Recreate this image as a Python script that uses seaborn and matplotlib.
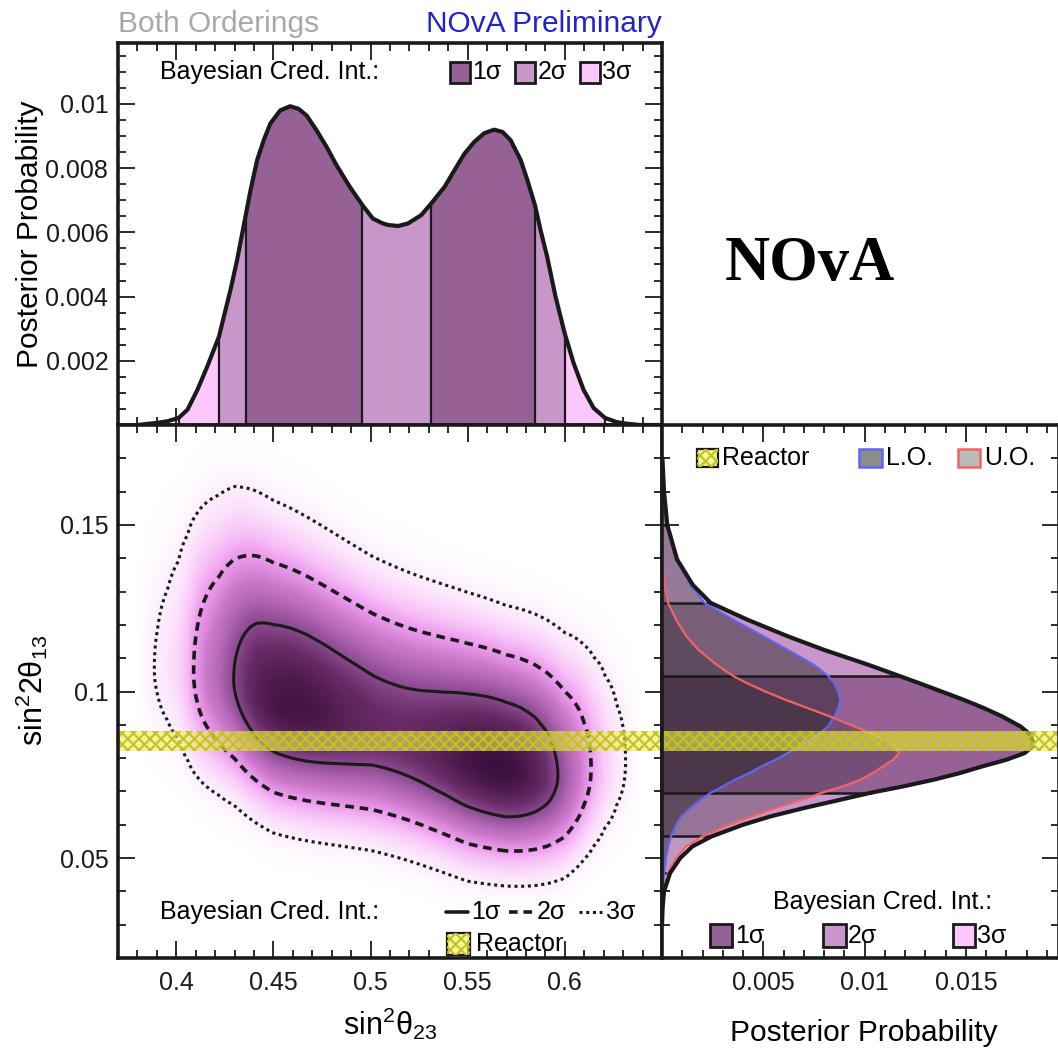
import numpy as np
import matplotlib
matplotlib.use("Agg")
import matplotlib.pyplot as plt
import seaborn as sns
from matplotlib.patches import Rectangle
from matplotlib.colors import LinearSegmentedColormap
from matplotlib.ticker import MultipleLocator, FixedLocator, FuncFormatter

# ---------------- data ----------------
# marginal posterior of sin^2(theta23)
th23 = [0.380, 0.3904, 0.3956, 0.4012, 0.4058, 0.4109, 0.4160, 0.4211, 0.422, 0.4245,
        0.4279, 0.4313, 0.4356, 0.4361, 0.4382, 0.4416, 0.4450, 0.4484, 0.4535, 0.4586,
        0.4629, 0.4671, 0.4722, 0.4774, 0.4825, 0.4893, 0.4958, 0.5012, 0.5063, 0.5091,
        0.5142, 0.5193, 0.5261, 0.5312, 0.5381, 0.5432, 0.5483, 0.5534, 0.5585, 0.5636,
        0.5679, 0.5721, 0.5773, 0.5807, 0.5846, 0.5875, 0.5909, 0.5952, 0.5999, 0.6045,
        0.6096, 0.6148, 0.6207, 0.6267, 0.6318, 0.6386, 0.650]
post23 = [0.0, 0.00007, 0.00012, 0.00022, 0.00048, 0.0011, 0.00183, 0.00262, 0.00276, 0.00338,
          0.00421, 0.00514, 0.00649, 0.00665, 0.00731, 0.00825, 0.00887, 0.00939, 0.0098, 0.00993,
          0.00985, 0.00964, 0.00918, 0.00866, 0.00809, 0.00742, 0.00685, 0.00643, 0.00628, 0.00623,
          0.0062, 0.00628, 0.00654, 0.0069, 0.00742, 0.00794, 0.00845, 0.00882, 0.00909, 0.0092,
          0.00913, 0.00887, 0.00825, 0.00763, 0.00685, 0.00607, 0.00524, 0.0040, 0.00286, 0.00193,
          0.0011, 0.00053, 0.00022, 0.00009, 0.00004, 0.0, 0.0]
ci1_23 = [(0.4361, 0.4958), (0.5312, 0.5846)]
ci2_23 = [(0.422, 0.5999)]
ci3_23 = [(0.4012, 0.6207)]

# conditional shape of sin^2(2theta13) along sin^2(theta23) (mode, upper / lower width)
ctrl_x    = [0.37, 0.40, 0.43, 0.45, 0.50, 0.55, 0.57, 0.60, 0.62, 0.65]
ctrl_mode = [0.107, 0.1068, 0.1035, 0.0970, 0.0894, 0.0798, 0.0767, 0.0745, 0.078, 0.080]
ctrl_sup  = [0.020, 0.020, 0.0195, 0.0188, 0.0165, 0.0155, 0.0151, 0.0150, 0.0150, 0.0150]
ctrl_sdn  = [0.013, 0.013, 0.0127, 0.0123, 0.0119, 0.0114, 0.0108, 0.0106, 0.0106, 0.0106]

# marginal posterior of sin^2(2theta13), lower / upper octant
y13 = [0.030, 0.035, 0.040, 0.0455, 0.050, 0.0535, 0.0565, 0.060, 0.0625, 0.065,
       0.0675, 0.0696, 0.0715, 0.0735, 0.0755, 0.0775, 0.0795, 0.0815, 0.0835, 0.085,
       0.087, 0.0895, 0.0925, 0.095, 0.0975, 0.100, 0.1025, 0.1047, 0.108, 0.1125,
       0.1166, 0.1216, 0.1266, 0.132, 0.1397, 0.150, 0.160, 0.170]
lo13 = [0.0, 0.00001, 0.00004, 0.0001, 0.0002, 0.0003, 0.00045, 0.0007, 0.00095, 0.0014,
        0.0019, 0.0024, 0.0030, 0.0036, 0.0043, 0.0049, 0.0056, 0.0062, 0.0068, 0.0072,
        0.0077, 0.0082, 0.0085, 0.0087, 0.0088, 0.0087, 0.0085, 0.0082, 0.0075, 0.0062,
        0.0050, 0.0035, 0.0021, 0.0014, 0.0007, 0.00025, 0.0001, 0.00002]
uo13 = [0.0, 0.00002, 0.00006, 0.0003, 0.0007, 0.0012, 0.0020, 0.0033, 0.0044, 0.0056,
        0.0069, 0.0079, 0.0089, 0.0098, 0.0104, 0.0109, 0.0114, 0.0117, 0.0115, 0.0111,
        0.0105, 0.0095, 0.0083, 0.0072, 0.0061, 0.0051, 0.0042, 0.0035, 0.0027, 0.0018,
        0.0012, 0.0007, 0.0003, 0.00012, 0.00004, 0.00001, 0.0, 0.0]
ci1_13 = (0.0696, 0.1047)
ci2_13 = (0.0565, 0.1266)
ci3_13 = (0.0455, 0.150)

reactor = (0.082, 0.088)
cl_levels = [0.6827, 0.9545, 0.9973]
sig_labels = ["1σ", "2σ", "3σ"]
x23_ticks = [0.4, 0.45, 0.5, 0.55, 0.6]

# ---------------- style ----------------
sns.set_theme(style="ticks")
plt.rcParams['font.family'] = ['Liberation Sans', 'DejaVu Sans']
plt.rcParams['mathtext.fontset'] = 'custom'
plt.rcParams['mathtext.rm'] = 'Liberation Sans'
plt.rcParams['mathtext.it'] = 'Liberation Sans:italic'
plt.rcParams['hatch.linewidth'] = 1.5
plt.rcParams['text.color'] = 'black'

C1, C2, C3 = '#966296', '#c896c8', '#fcc8fc'
HATCH_FC = (0.93, 0.93, 0.35, 0.6)
HATCH_EC = '#c2c222'
LO_EC, UO_EC = '#6464ee', '#f06464'
LO_A, UO_A = 0.45, 0.27
FS = 18

W, H = 1058, 1056
fig = plt.figure(figsize=(W / 100, H / 100), dpi=100)


def frac(x0, y0, x1, y1):
    return [x0 / W, 1 - y1 / H, (x1 - x0) / W, (y1 - y0) / H]


ax_top = fig.add_axes(frac(118, 43, 662, 425))
ax_main = fig.add_axes(frac(118, 425, 662, 958))
ax_r = fig.add_axes(frac(662, 425, 1059, 958))

fmt = FuncFormatter(lambda v, p: f"{v:g}")


def style(ax):
    ax.tick_params(which='both', direction='in', top=True, right=True, bottom=True, left=True,
                   width=1.3, color='k', labelsize=FS, labelcolor='k')
    ax.tick_params(which='major', length=12, pad=7)
    ax.tick_params(which='minor', length=6)
    for sp in ax.spines.values():
        sp.set_linewidth(2.6)
        sp.set_color('k')
        sp.set_zorder(6)


for a in (ax_top, ax_main, ax_r):
    style(a)

th = np.array(th23)
pp = np.array(post23)

# ---------------- top marginal ----------------
def seg(a, b):
    m = (th >= a - 1e-9) & (th <= b + 1e-9)
    return th[m], pp[m]

for ci, col in ((ci3_23, C3), (ci2_23, C2), (ci1_23, C1)):
    for a, b in ci:
        xs, ys = seg(a, b)
        ax_top.fill_between(xs, 0, ys, color=col, lw=0, zorder=1)
for ci in (ci1_23, ci2_23, ci3_23):
    for a, b in ci:
        for bnd in (a, b):
            ax_top.plot([bnd, bnd], [0, np.interp(bnd, th, pp)], color='k', lw=1.6, zorder=2)
sns.lineplot(x=th23, y=post23, ax=ax_top, color='k', lw=3.0, sort=False, estimator=None, zorder=3)
ax_top.set_xlim(0.37, 0.65)
ax_top.set_ylim(0, 0.0119)
ax_top.xaxis.set_major_locator(FixedLocator(x23_ticks))
ax_top.xaxis.set_minor_locator(MultipleLocator(0.01))
ax_top.yaxis.set_major_locator(FixedLocator([0.002, 0.004, 0.006, 0.008, 0.01]))
ax_top.yaxis.set_minor_locator(MultipleLocator(0.0005))
ax_top.yaxis.set_major_formatter(fmt)
ax_top.tick_params(labelbottom=False)
ax_top.set_xlabel('')
ax_top.set_ylabel('')

# legend top
tr = ax_top.transAxes
ax_top.text(0.077, 0.924, "Bayesian Cred. Int.:", transform=tr, ha='left', va='center', fontsize=FS)
for x0, col, lab in ((0.610, C1, sig_labels[0]), (0.730, C2, sig_labels[1]), (0.849, C3, sig_labels[2])):
    ax_top.add_patch(Rectangle((x0, 0.896), 0.037, 0.055, transform=tr, fc=col, ec='k', lw=2,
                               clip_on=False, zorder=7))
    ax_top.text(x0 + 0.041, 0.924, lab, transform=tr, ha='left', va='center', fontsize=FS)

# ---------------- 2D posterior ----------------
gx = np.linspace(0.37, 0.65, 420)
gy = np.linspace(0.02, 0.18, 420)
X, Y = np.meshgrid(gx, gy)
fx = np.interp(gx, th23, post23)
mo = np.interp(gx, ctrl_x, ctrl_mode)[None, :]
su = np.interp(gx, ctrl_x, ctrl_sup)[None, :]
sd = np.interp(gx, ctrl_x, ctrl_sdn)[None, :]
S = np.where(Y >= mo, su, sd)
P = fx[None, :] * (2.0 / np.sqrt(2 * np.pi) / (su + sd)) * np.exp(-0.5 * ((Y - mo) / S) ** 2)

flat = np.sort(P.ravel())[::-1]
cum = np.cumsum(flat) / flat.sum()
levels = [flat[np.searchsorted(cum, q)] for q in cl_levels]  # 1,2,3 sigma

cmap = LinearSegmentedColormap.from_list('nova', [
    (0.0, '#ffffff'), (0.004, '#fdf0fd'), (0.02, '#fad2fa'), (0.06, '#f0a2f0'),
    (0.15, '#cc78cc'), (0.35, '#96529a'), (0.6, '#682c68'), (1.0, '#3c0f3c')], N=4096)
ax_main.imshow(P / P.max(), extent=[0.37, 0.65, 0.02, 0.18], origin='lower', aspect='auto',
               cmap=cmap, vmin=0, vmax=1, interpolation='bilinear', zorder=0)
ax_main.contour(gx, gy, P, levels=[levels[2], levels[1], levels[0]], colors='k',
                linestyles=[(0, (1, 1.2)), (0, (2.4, 1.6)), 'solid'],
                linewidths=[2.2, 2.6, 2.2], zorder=2)
ax_main.axhspan(reactor[0], reactor[1], fc=HATCH_FC, ec='none', lw=0, zorder=3)
ax_main.axhspan(reactor[0], reactor[1], fc='none', ec=HATCH_EC, hatch='xxx', lw=0, zorder=3)
ax_main.set_xlim(0.37, 0.65)
ax_main.set_ylim(0.02, 0.18)
ax_main.xaxis.set_major_locator(FixedLocator(x23_ticks))
ax_main.xaxis.set_minor_locator(MultipleLocator(0.01))
ax_main.yaxis.set_major_locator(MultipleLocator(0.05))
ax_main.yaxis.set_minor_locator(MultipleLocator(0.01))
ax_main.xaxis.set_major_formatter(fmt)
ax_main.yaxis.set_major_formatter(fmt)
ax_main.tick_params(axis='x', pad=9)

tm = ax_main.transAxes
ax_main.text(0.077, 0.086, "Bayesian Cred. Int.:", transform=tm, ha='left', va='center', fontsize=FS)
ax_main.plot([0.603, 0.643], [0.086, 0.086], transform=tm, color='k', lw=2.6, clip_on=False)
ax_main.text(0.649, 0.086, sig_labels[0], transform=tm, ha='left', va='center', fontsize=FS)
ax_main.plot([0.719, 0.763], [0.086, 0.086], transform=tm, color='k', lw=2.6,
             ls=(0, (2.4, 1.6)), clip_on=False)
ax_main.text(0.770, 0.086, sig_labels[1], transform=tm, ha='left', va='center', fontsize=FS)
ax_main.plot([0.847, 0.890], [0.086, 0.086], transform=tm, color='k', lw=2.2,
             ls=(0, (1, 1.2)), clip_on=False)
ax_main.text(0.897, 0.086, sig_labels[2], transform=tm, ha='left', va='center', fontsize=FS)
ax_main.add_patch(Rectangle((0.605, 0.006), 0.042, 0.041, transform=tm, fc=HATCH_FC, ec='k', lw=1.6,
                            clip_on=False, zorder=7))
ax_main.add_patch(Rectangle((0.605, 0.006), 0.042, 0.041, transform=tm, fc='none', ec=HATCH_EC,
                            hatch='xxx', lw=0, clip_on=False, zorder=7))
ax_main.text(0.658, 0.026, "Reactor", transform=tm, ha='left', va='center', fontsize=FS, zorder=8)

# ---------------- right marginal ----------------
yy = np.array(y13)
lo = np.array(lo13)
uo = np.array(uo13)
tot = lo + uo

def segy(a, b):
    m = (yy >= a - 1e-9) & (yy <= b + 1e-9)
    return yy[m], tot[m]

for (a, b), col in ((ci3_13, C3), (ci2_13, C2), (ci1_13, C1)):
    ys, vs = segy(a, b)
    ax_r.fill_betweenx(ys, 0, vs, color=col, lw=0, zorder=1)
ax_r.fill_betweenx(yy, 0, uo, color='k', alpha=UO_A, lw=0, zorder=1.2)
ax_r.fill_betweenx(yy, 0, lo, color='k', alpha=LO_A, lw=0, zorder=1.3)
for ci in (ci1_13, ci2_13, ci3_13):
    for bnd in ci:
        ax_r.plot([0, np.interp(bnd, yy, tot)], [bnd, bnd], color='k', lw=1.8, zorder=2)
sns.lineplot(x=lo13, y=y13, ax=ax_r, color=LO_EC, lw=1.6, sort=False, estimator=None,
             orient='y', zorder=2.3)
sns.lineplot(x=uo13, y=y13, ax=ax_r, color=UO_EC, lw=1.6, sort=False, estimator=None,
             orient='y', zorder=2.3)
sns.lineplot(x=tot, y=yy, ax=ax_r, color='k', lw=3.0, sort=False, estimator=None,
             orient='y', zorder=2.5)
ax_r.axhspan(reactor[0], reactor[1], fc=HATCH_FC, ec='none', lw=0, zorder=3)
ax_r.axhspan(reactor[0], reactor[1], fc='none', ec=HATCH_EC, hatch='xxx', lw=0, zorder=3)
ax_r.set_xlim(0, 0.0196)
ax_r.set_ylim(0.02, 0.18)
ax_r.xaxis.set_major_locator(FixedLocator([0.005, 0.01, 0.015]))
ax_r.xaxis.set_minor_locator(MultipleLocator(0.001))
ax_r.yaxis.set_major_locator(MultipleLocator(0.05))
ax_r.yaxis.set_minor_locator(MultipleLocator(0.01))
ax_r.xaxis.set_major_formatter(fmt)
ax_r.tick_params(labelleft=False)
ax_r.tick_params(axis='x', pad=9)
ax_r.set_xlabel('')
ax_r.set_ylabel('')

trr = ax_r.transAxes
ax_r.add_patch(Rectangle((0.088, 0.921), 0.053, 0.034, transform=trr, fc=HATCH_FC, ec='k', lw=1.6,
                         clip_on=False, zorder=7))
ax_r.add_patch(Rectangle((0.088, 0.921), 0.053, 0.034, transform=trr, fc='none', ec=HATCH_EC,
                         hatch='xxx', lw=0, clip_on=False, zorder=7))
ax_r.text(0.152, 0.938, "Reactor", transform=trr, ha='left', va='center', fontsize=FS)
ax_r.add_patch(Rectangle((0.497, 0.921), 0.056, 0.034, transform=trr, fc=(0, 0, 0, LO_A), ec=LO_EC,
                         lw=1.8, clip_on=False, zorder=7))
ax_r.text(0.563, 0.938, "L.O.", transform=trr, ha='left', va='center', fontsize=FS)
ax_r.add_patch(Rectangle((0.745, 0.921), 0.056, 0.034, transform=trr, fc=(0, 0, 0, UO_A), ec=UO_EC,
                         lw=1.8, clip_on=False, zorder=7))
ax_r.text(0.811, 0.938, "U.O.", transform=trr, ha='left', va='center', fontsize=FS)

ax_r.text(0.555, 0.1056, "Bayesian Cred. Int.:", transform=trr, ha='center', va='center', fontsize=FS)
for x0, col, lab in ((0.121, C1, sig_labels[0]), (0.4066, C2, sig_labels[1]), (0.732, C3, sig_labels[2])):
    ax_r.add_patch(Rectangle((x0, 0.021), 0.056, 0.043, transform=trr, fc=col, ec='k', lw=2,
                             clip_on=False, zorder=7))
    ax_r.text(x0 + 0.062, 0.042, lab, transform=trr, ha='left', va='center', fontsize=FS, zorder=8)

# ---------------- labels & titles ----------------
fig.text(118 / W, 1 - 24 / H, "Both Orderings", color='#a8a8a8', fontsize=21.5, ha='left', va='center')
fig.text(662 / W, 1 - 24 / H, "NOvA Preliminary", color='#2222cc', fontsize=21.5, ha='right', va='center')
fig.text(810 / W, 1 - 265 / H, "NOvA", family=['Liberation Serif', 'DejaVu Serif'], weight='bold',
         fontsize=45, ha='center', va='center', color='black')
fig.text(30 / W, 1 - 234 / H, "Posterior Probability", rotation=90, fontsize=21.5, ha='center',
         va='center', color='black')
fig.text(32 / W, 1 - 690 / H, r"$\mathrm{sin^{2}2θ_{13}}$", rotation=90, fontsize=22, ha='center',
         va='center', color='black')
fig.text(390 / W, 1 - 1024 / H, r"$\mathrm{sin^{2}θ_{23}}$", fontsize=22, ha='center', va='center',
         color='black')
fig.text(864 / W, 1 - 1033 / H, "Posterior Probability", fontsize=21.5, ha='center', va='center',
         color='black')

fig.savefig("out.png", dpi=100)
